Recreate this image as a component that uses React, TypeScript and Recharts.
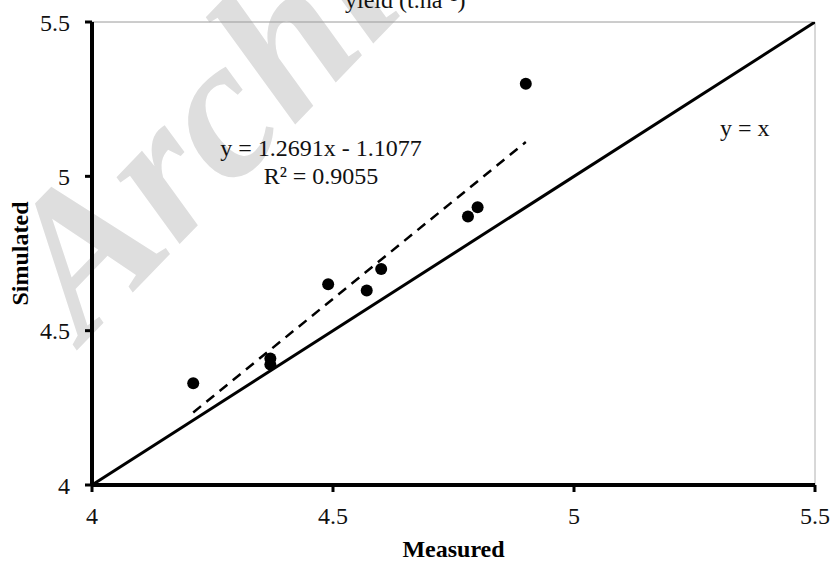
import React from 'react';
import { ScatterChart, Scatter, XAxis, YAxis, ReferenceLine } from 'recharts';

// measured vs simulated yield
const measured = [4.21, 4.37, 4.37, 4.49, 4.57, 4.6, 4.78, 4.8, 4.9];
const simulated = [4.33, 4.41, 4.39, 4.65, 4.63, 4.7, 4.87, 4.9, 5.3];

// 1:1 line and fitted trend line end points
const oneToOneX = [4, 5.5];
const oneToOneY = [4, 5.5];
const trendX = [4.21, 4.9];
const trendY = [4.235, 5.111];

const axisTicks = [4, 4.5, 5, 5.5];

const equationText = 'y = 1.2691x - 1.1077';
const r2Text = 'R² = 0.9055';
const identityText = 'y = x';
const titleText = 'yield (t.ha⁻¹)';
const watermarkText = 'Archive of SID';

const points = measured.map((m, i) => ({ x: m, y: simulated[i] }));
const identityLine = oneToOneX.map((x, i) => ({ x, y: oneToOneY[i] }));
const trendLine = trendX.map((x, i) => ({ x, y: trendY[i] }));

const FONT = '"Liberation Serif", "Times New Roman", serif';
const W = 831;
const H = 561;

const Dot = (props: any) => <circle cx={props.cx} cy={props.cy} r={6} fill="#000" />;
const NoDot = () => <g />;

export default function App() {
  const tickStyle = { fill: '#111', fontSize: 24, fontFamily: FONT };
  return (
    <div style={{ position: 'absolute', left: 0, top: 0, width: W, height: H, background: '#fff', overflow: 'hidden' }}>
      {/* watermark behind the chart */}
      <svg width={W} height={H} style={{ position: 'absolute', left: 0, top: 0 }}>
        <text
          x={84}
          y={343}
          transform="rotate(-46 84 343)"
          fontFamily={FONT}
          fontWeight="bold"
          fontStyle="italic"
          fontSize={200}
          fill="#dedede"
        >
          {watermarkText}
        </text>
      </svg>

      <div style={{ position: 'absolute', left: 0, top: 0 }}>
        <ScatterChart width={W} height={H} margin={{ top: 22, right: 16, bottom: 0, left: 0 }}>
          <ReferenceLine y={5.5} stroke="#9a9a9a" strokeWidth={1} />
          <ReferenceLine x={5.5} stroke="#b0b0b0" strokeWidth={1} />
          <XAxis
            type="number"
            dataKey="x"
            domain={[4, 5.5]}
            ticks={axisTicks}
            allowDataOverflow
            height={76}
            tickSize={7}
            tickMargin={15}
            axisLine={{ stroke: '#000', strokeWidth: 4 }}
            tickLine={{ stroke: '#000', strokeWidth: 3 }}
            tick={tickStyle}
            label={{
              value: 'Measured',
              position: 'insideBottom',
              offset: 4,
              style: { fill: '#000', fontSize: 24, fontWeight: 'bold', fontFamily: FONT },
            }}
          />
          <YAxis
            type="number"
            dataKey="y"
            domain={[4, 5.5]}
            ticks={axisTicks}
            allowDataOverflow
            width={92}
            tickSize={7}
            tickMargin={15}
            axisLine={{ stroke: '#000', strokeWidth: 4 }}
            tickLine={{ stroke: '#000', strokeWidth: 3 }}
            tick={tickStyle}
            label={{
              value: 'Simulated',
              angle: -90,
              position: 'insideLeft',
              offset: 19,
              style: { fill: '#000', fontSize: 24, fontWeight: 'bold', fontFamily: FONT, textAnchor: 'middle' },
            }}
          />
          <Scatter
            data={identityLine}
            line={{ stroke: '#000', strokeWidth: 3 }}
            shape={NoDot}
            isAnimationActive={false}
          />
          <Scatter
            data={trendLine}
            line={{ stroke: '#000', strokeWidth: 2.5, strokeDasharray: '10 7' }}
            shape={NoDot}
            isAnimationActive={false}
          />
          <Scatter data={points} shape={Dot} isAnimationActive={false} />
        </ScatterChart>
      </div>

      {/* annotations */}
      <svg width={W} height={H} style={{ position: 'absolute', left: 0, top: 0, pointerEvents: 'none' }}>
        <g fontFamily={FONT} fontSize={24} fill="#111">
          <text x={345} y={8}>{titleText}</text>
          <text x={321} y={156} textAnchor="middle">{equationText}</text>
          <text x={321} y={184} textAnchor="middle">{r2Text}</text>
          <text x={720} y={136}>{identityText}</text>
        </g>
      </svg>
    </div>
  );
}
